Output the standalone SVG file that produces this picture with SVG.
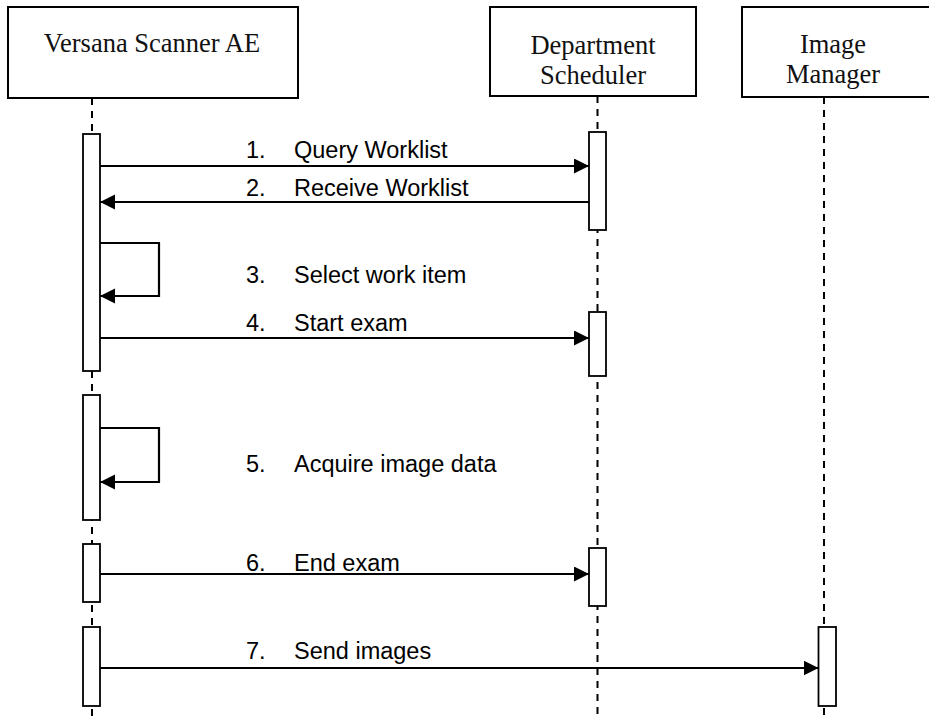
<svg xmlns="http://www.w3.org/2000/svg" width="929" height="717" viewBox="0 0 929 717">
<style>
.box{fill:#fff;stroke:#000;stroke-width:2}
.bar{fill:#fff;stroke:#000;stroke-width:1.8}
.life{stroke:#000;stroke-width:2;stroke-dasharray:7 6;fill:none}
.hdr{font-family:"Liberation Serif","Times New Roman",serif;font-size:26.5px;fill:#111;text-anchor:middle}
.lbl{font-family:"Liberation Sans",Arial,sans-serif;font-size:23.5px;fill:#000}
.msg{stroke:#000;stroke-width:2.2;fill:none;marker-end:url(#ah)}
</style>
<defs>
<marker id="ah" markerUnits="userSpaceOnUse" markerWidth="16" markerHeight="16" refX="15" refY="7.5" orient="auto">
<path d="M0,0 L15,7.5 L0,15 z" fill="#000"/>
</marker>
</defs>
<g id="lifelines">
<line class="life" x1="92" y1="98" x2="92" y2="717"/>
<line class="life" x1="597.5" y1="96" x2="597.5" y2="717"/>
<line class="life" x1="824" y1="97" x2="824" y2="717"/>
</g>
<g id="versana">
<rect class="box" x="8" y="7" width="290" height="91"/>
<text class="hdr" x="152" y="52">Versana Scanner AE</text>
<rect class="bar" x="83" y="134" width="17" height="237"/>
<rect class="bar" x="83" y="395" width="17" height="125"/>
<rect class="bar" x="83" y="544" width="17" height="58"/>
<rect class="bar" x="83" y="627" width="17" height="79"/>
</g>
<g id="scheduler">
<rect class="box" x="490" y="7" width="206" height="89"/>
<text class="hdr" x="593" y="54">Department</text>
<text class="hdr" x="593" y="84">Scheduler</text>
<rect class="bar" x="589" y="132" width="17" height="98"/>
<rect class="bar" x="589" y="312" width="17" height="64"/>
<rect class="bar" x="589" y="548" width="17" height="58"/>
</g>
<g id="imagemanager">
<rect class="box" x="742" y="7" width="200" height="90"/>
<text class="hdr" x="833" y="53">Image</text>
<text class="hdr" x="833" y="83">Manager</text>
<rect class="bar" x="818.5" y="627" width="17.5" height="79"/>
</g>
<g id="connectors">
<line class="msg" x1="100" y1="166" x2="589" y2="166"/>
<line class="msg" x1="589" y1="202" x2="100" y2="202"/>
<path class="msg" d="M100,243 H159 V296 H100"/>
<line class="msg" x1="100" y1="338" x2="589" y2="338"/>
<path class="msg" d="M100,428 H159 V482 H100"/>
<line class="msg" x1="100" y1="574" x2="589" y2="574"/>
<line class="msg" x1="100" y1="668" x2="818.5" y2="668"/>
</g>
<g id="labels">
<text class="lbl" x="246" y="158">1.</text><text class="lbl" x="294" y="158">Query Worklist</text>
<text class="lbl" x="246" y="196">2.</text><text class="lbl" x="294" y="196">Receive Worklist</text>
<text class="lbl" x="246" y="283">3.</text><text class="lbl" x="294" y="283">Select work item</text>
<text class="lbl" x="246" y="331">4.</text><text class="lbl" x="294" y="331">Start exam</text>
<text class="lbl" x="246" y="472">5.</text><text class="lbl" x="294" y="472">Acquire image data</text>
<text class="lbl" x="246" y="571">6.</text><text class="lbl" x="294" y="571">End exam</text>
<text class="lbl" x="246" y="659">7.</text><text class="lbl" x="294" y="659">Send images</text>
</g>
</svg>
